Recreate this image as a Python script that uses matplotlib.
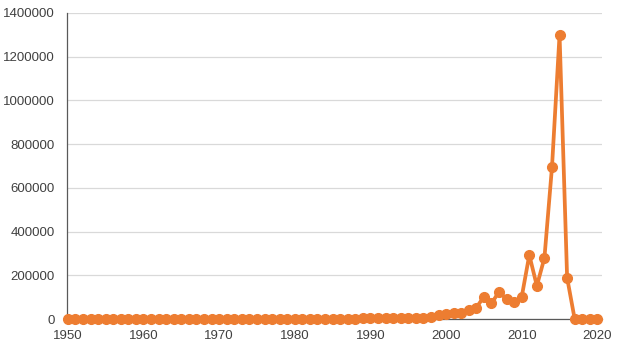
import numpy as np
import matplotlib.pyplot as plt

plt.rcParams['font.family'] = ['Liberation Sans', 'DejaVu Sans']

# yıllar ve değerler (görselden okunan tahmini değerler)
years = list(range(1950, 2021))
values = [
    1000, 1000, 1000, 1000, 1000, 1000, 1000, 1000, 1000, 1000,   # 1950-1959
    1000, 1000, 1000, 1000, 1000, 1000, 1000, 1000, 1000, 1000,   # 1960-1969
    1500, 1500, 1500, 1500, 1500, 1500, 1500, 1500, 1500, 1500,   # 1970-1979
    2000, 2000, 2000, 2000, 2000, 2500, 2500, 2500, 2500, 3000,   # 1980-1989
    3000, 3000, 3500, 3500, 4000, 4500, 5000, 7000, 10000, 18000, # 1990-1999
    22000, 28000, 30000, 40000, 53000, 102000, 72000, 125000, 91000, 79000,  # 2000-2009
    102000, 293000, 152000, 280000, 695000, 1300000, 189000, 0, 0, 0,        # 2010-2019
    0,                                                                        # 2020
]
xticks = [1950, 1960, 1970, 1980, 1990, 2000, 2010, 2020]
yticks = [0, 200000, 400000, 600000, 800000, 1000000, 1200000, 1400000]

fig = plt.figure(figsize=(6.27, 3.48), dpi=100)
ax = fig.add_axes([0.107, 0.083, 0.853, 0.88])

ax.plot(years, values, color="#ED7D31", linewidth=2.7, marker="o",
        markersize=7, zorder=3, clip_on=False)

ax.set_xlim(1949.9, 2020.6)
ax.set_ylim(0, 1400000)
ax.set_xticks(xticks)
ax.set_yticks(yticks)
ax.set_yticklabels([str(v) for v in yticks])
ax.tick_params(length=0, labelsize=9.5, colors="#404040")
ax.tick_params(axis="x", pad=8)
ax.tick_params(axis="y", pad=9)

ax.grid(axis="y", color="#d9d9d9", linewidth=0.9)
ax.set_axisbelow(True)
for s in ["top", "right"]:
    ax.spines[s].set_visible(False)
ax.spines["left"].set_color("#595959")
ax.spines["bottom"].set_color("#595959")
ax.spines["left"].set_linewidth(0.9)
ax.spines["bottom"].set_linewidth(0.9)

fig.savefig("out.png", dpi=100)
